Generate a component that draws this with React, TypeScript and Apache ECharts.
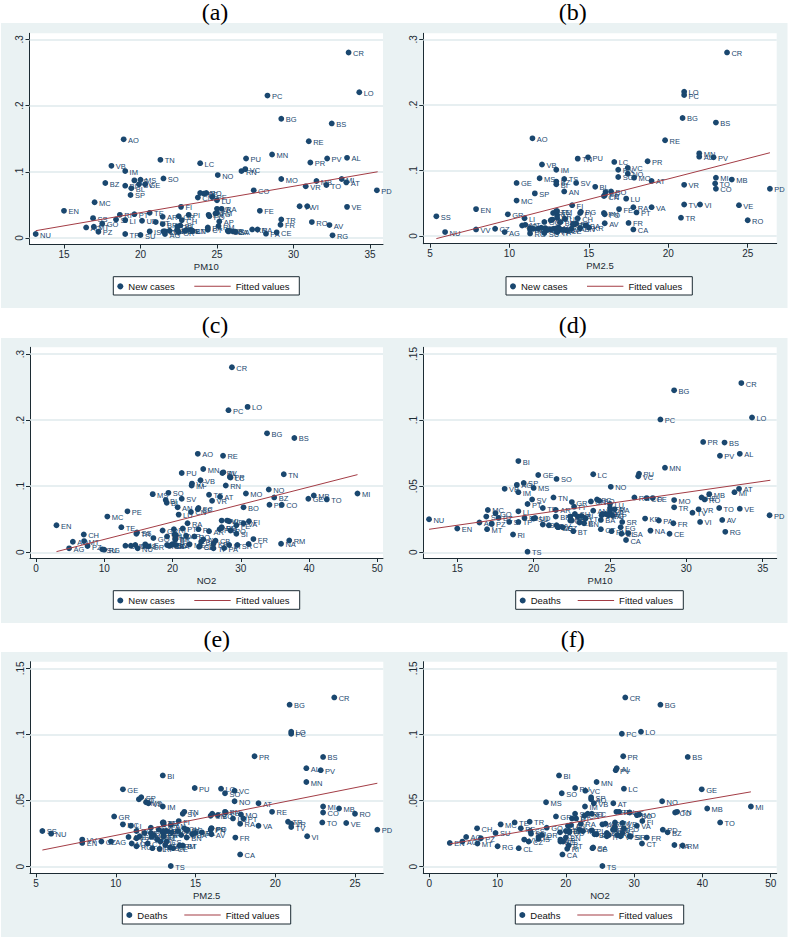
import React, { useEffect, useRef } from "react";
import * as echarts from "echarts";

const provinces = [
  "AG","AL","AN","AO","AP","AQ","AR","AT","AV","BA",
  "BG","BI","BL","BN","BO","BR","BS","BT","BZ","CA",
  "CB","CE","CH","CL","CN","CO","CR","CS","CT","CZ",
  "EN","FC","FE","FG","FI","FM","FR","GE","GO","GR",
  "IM","IS","KR","LC","LE","LI","LO","LT","LU","MB",
  "MC","ME","MI","MN","MO","MS","MT","NA","NO","NU",
  "OR","PA","PC","PD","PE","PG","PI","PN","PO","PR",
  "PT","PU","PV","PZ","RA","RC","RE","RG","RI","RM",
  "RN","RO","SA","SI","SO","SP","SR","SS","SU","SV",
  "TA","TE","TN","TO","TP","TR","TS","TV","UD","VA",
  "VB","VC","VE","VI","VR","VT","VV",
];
const pm10 = [
  21.6,33.5,23.9,18.9,25.15,16.45,21.45,33.45,32.35,24.4,
  29.2,19,19.4,23.3,24.3,21.45,32.5,22.6,17.7,26.05,
  22.4,28.9,22.7,25.75,23.75,27.4,33.6,21.6,24.4,21.9,
  15,24.15,27.8,25.7,22.65,25,29.15,20.3,17.5,22.5,
  19,20.6,27.3,23.9,23,19,34.3,23.4,25,31.5,
  17,22.4,33.15,28.6,29.2,20,16.95,27.65,25.05,13.15,
  22.5,28.2,28.3,35.45,24.7,24.9,23.15,24.45,24.5,31.1,
  19.6,26.9,32.2,17.25,25.3,22.4,31,32.55,18.65,25.1,
  26.6,31.2,26.2,18.4,21.5,19.35,25.8,16.9,20,19.9,
  22.9,20.6,21.3,32.15,19,29.2,19.6,30.4,20.1,25,
  18.1,26.85,33.5,30.9,30.8,21,21.5,
];
const pm25 = [
  9.7,21.95,13.45,11.45,12.7,10.8,13,18.95,16,14.8,
  20.9,12.95,15.4,14.45,16.4,13.2,23,14.2,12.95,17.8,
  14.1,13.6,14.3,12.3,15.95,23,23.7,13.2,12,9.1,
  7.9,16.05,16.9,12.8,13.95,13,17.5,10.45,12.2,9.9,
  12.95,12.6,15,16.6,12.25,10.95,21,11.8,17.35,24,
  10.45,13,23,21.95,17.85,11.9,11,13.1,17.45,5.95,
  12.4,13,21,26.4,16,14.5,14.45,15.95,16,18.7,
  18,14.95,22.85,11.3,17.8,11.3,19.8,11.3,12.75,14,
  16.85,25,13.4,13,16.85,11.6,11.5,5.4,12.2,14.2,
  13.9,12.95,14.3,22.95,13,20.8,13.45,21,13.5,18.95,
  12.05,17.45,24.45,22,21,12.6,7.9,
];
const no2 = [
  4.85,27.45,20.75,23.7,22,5.4,25.35,26.95,24.5,24.2,
  33.85,19,19.15,20,30.4,20.4,37.85,20.4,34.9,19.5,
  26.3,23.9,7,13.1,22.7,36,28.7,19.6,31.15,14.55,
  3,23.8,29.35,19.2,31.2,27.2,31.85,39.9,17.2,18.55,
  22.8,16,26,28.5,16,20.3,31,28.3,20.9,40.7,
  10.45,22.5,47.1,24.5,30.75,17.1,7.05,35.9,34.1,14.9,
  16.5,27.55,28.2,34.2,13.4,27.2,23.8,26.9,28.5,28.4,
  21.5,21.35,27.3,7.55,22.2,20,27.4,10,20.2,37.1,
  27.8,23.2,24,29.35,19.4,23.7,29.5,14.8,9.7,21.35,
  20.5,12.5,36.3,42.6,26,14.7,25.35,27.2,20.5,30.4,
  24.1,22.85,28.3,28,25.8,19.2,13.9,
];
const newCases = [
  .006,.121,.068,.149,.025,.016,.032,.084,.0195,.016,
  .18,.079,.075,.012,.068,.021,.173,.019,.083,.01,
  .0175,.0085,.027,.01,.061,.072,.28,.01,.0125,.011,
  .041,.067,.041,.011,.047,.038,.02,.081,.0215,.033,
  .101,.01,.013,.113,.012,.027,.22,.011,.057,.086,
  .054,.012,.089,.126,.089,.088,.017,.013,.095,.006,
  .009,.0065,.215,.072,.062,.037,.035,.035,.033,.114,
  .036,.12,.12,.0095,.044,.012,.146,.004,.035,.018,
  .101,.024,.0095,.028,.09,.065,.011,.03,.0045,.081,
  .011,.038,.118,.08,.006,.028,.087,.048,.026,.044,
  .109,.104,.047,.048,.078,.024,.01,
];
const deaths = [
  .019,.0745,.0315,.051,.028,.0225,.032,.048,.0245,.0245,
  .1225,.069,.026,.022,.039,.027,.083,.016,.026,.0093,
  .024,.014,.029,.014,.0385,.041,.128,.019,.0175,.019,
  .018,.04,.041,.019,.0345,.0335,.022,.0585,.0295,.038,
  .0455,.021,.0255,.059,.0225,.031,.102,.0255,.0365,.044,
  .032,.027,.0455,.064,.0395,.0487,.0175,.0164,.0495,.025,
  .024,.024,.1005,.028,.029,.028,.0275,.028,.029,.0835,
  .0365,.0595,.073,.0215,.0325,.027,.0415,.0155,.0135,.016,
  .0415,.04,.0145,.023,.0555,.0525,.023,.027,.0255,.04,
  .027,.0335,.0415,.0335,.023,.034,.0005,.03,.026,.031,
  .048,.0575,.033,.023,.0325,.0205,.0205,
];

const fitCasesPm10 = [[13.15, 0.011], [35.5, 0.1]];
const fitCasesPm25 = [[5.4, -0.004], [26.4, 0.127]];
const fitCasesNo2 = [[3, 0.001], [47.1, 0.1175]];
const fitDeathsPm10 = [[13.15, 0.0174], [35.5, 0.0545]];
const fitDeathsPm25 = [[5.4, 0.0126], [26.4, 0.0631]];
const fitDeathsNo2 = [[3, 0.0172], [47.1, 0.0566]];

const xTicksPm10 = [15, 20, 25, 30, 35];
const xTicksPm25 = [5, 10, 15, 20, 25];
const xTicksNo2 = [0, 10, 20, 30, 40, 50];
const yTicksCases = [0, 0.1, 0.2, 0.3];
const yTicksDeaths = [0, 0.05, 0.1, 0.15];

const NAVY = "#1a476f";
const MAROON = "#a33c45";
const BG = "#eaf2f3";
const AXIS = "#1c2b33";
const SANS = '"Liberation Sans", Arial, sans-serif';
const SERIF = '"Liberation Serif", "Times New Roman", serif';

const panels = [
  { title: "(a)", tx: 215, ty: 0, bg: [1, 23, 394, 285], g: [29.5, 33.3, 383, 244.5], xp: [15, 64, 35, 370], yp: [0, 238, 0.3, 39.3],
    x: pm10, y: newCases, xName: "PM10", yName: "New cases", fit: fitCasesPm10, xt: xTicksPm10, yt: yTicksCases, box: [113.3, 276.7, 299.3, 295], d: 4, l: 81 },
  { title: "(b)", tx: 572.7, ty: 0, bg: [395, 23, 392, 285], g: [423.3, 33.3, 776.7, 243.7], xp: [5, 430, 25, 747.7], yp: [0, 236, 0.3, 39.3],
    x: pm25, y: newCases, xName: "PM2.5", yName: "New cases", fit: fitCasesPm25, xt: xTicksPm25, yt: yTicksCases, box: [506, 276.7, 692.3, 295], d: 4, l: 81 },
  { title: "(c)", tx: 215, ty: 313, bg: [1, 338, 394, 285], g: [30, 347.3, 383, 558], xp: [0, 36, 50, 377.3], yp: [0, 552.3, 0.3, 354],
    x: no2, y: newCases, xName: "NO2", yName: "New cases", fit: fitCasesNo2, xt: xTicksNo2, yt: yTicksCases, box: [113.3, 590.7, 299.7, 609.3], d: 4, l: 81 },
  { title: "(d)", tx: 572.7, ty: 313, bg: [395, 338, 392, 285], g: [423.3, 347.3, 776.7, 558], xp: [15, 457.3, 35, 762.7], yp: [0, 552.3, 0.15, 354],
    x: pm10, y: deaths, xName: "PM10", yName: "Deaths", fit: fitDeathsPm10, xt: xTicksPm10, yt: yTicksDeaths, box: [515.7, 590.7, 683.3, 609.3], d: 4, l: 62 },
  { title: "(e)", tx: 216.7, ty: 627, bg: [1, 652, 394, 285], g: [30, 661.7, 383.3, 873.3], xp: [5, 36, 25, 355], yp: [0, 866.7, 0.15, 668.3],
    x: pm25, y: deaths, xName: "PM2.5", yName: "Deaths", fit: fitDeathsPm25, xt: xTicksPm25, yt: yTicksDeaths, box: [122.3, 905, 290.7, 924], d: 4, l: 62 },
  { title: "(f)", tx: 572.7, ty: 627, bg: [395, 652, 392, 285], g: [423.3, 661.7, 776.7, 873.3], xp: [0, 429.3, 50, 770.7], yp: [0, 866.7, 0.15, 668.3],
    x: no2, y: deaths, xName: "NO2", yName: "Deaths", fit: fitDeathsNo2, xt: xTicksNo2, yt: yTicksDeaths, box: [515.3, 905, 683.7, 924], d: 4, l: 62 },
];

const fmtY = (v: number) => (v === 0 ? "0" : String(+v.toFixed(2)).replace(/^0/, ""));

function buildOption() {
  const grid: any[] = [], xAxis: any[] = [], yAxis: any[] = [], series: any[] = [];
  const legend: any[] = [], title: any[] = [], graphic: any[] = [];
  panels.forEach((p, i) => {
    const [gl, gt, gr, gb] = p.g;
    const [xa, xapx, xb, xbpx] = p.xp;
    const [ya, yapx, yb, ybpx] = p.yp;
    const xs = (xb - xa) / (xbpx - xapx);
    const ys = (yb - ya) / (ybpx - yapx);
    grid.push({ left: gl, top: gt, width: gr - gl, height: gb - gt, show: true, backgroundColor: "#ffffff", borderWidth: 0 });
    xAxis.push({
      type: "value", gridIndex: i,
      min: xa + (gl - xapx) * xs, max: xa + (gr - xapx) * xs,
      name: p.xName, nameLocation: "middle", nameGap: 17,
      nameTextStyle: { fontFamily: SANS, fontSize: 9.5, color: AXIS },
      axisLine: { onZero: false, lineStyle: { color: AXIS, width: 1 } },
      axisTick: { customValues: p.xt, length: 4, lineStyle: { color: AXIS } },
      axisLabel: { customValues: p.xt, fontFamily: SANS, fontSize: 10, color: AXIS, margin: 5, showMinLabel: true, showMaxLabel: true },
      splitLine: { show: false },
    });
    yAxis.push({
      type: "value", gridIndex: i,
      min: ya + (gb - yapx) * ys, max: ya + (gt - yapx) * ys,
      axisLine: { onZero: false, lineStyle: { color: AXIS, width: 1 } },
      axisTick: { customValues: p.yt, length: 4, lineStyle: { color: AXIS } },
      axisLabel: { customValues: p.yt, fontFamily: SANS, fontSize: 10, color: AXIS, margin: 5, rotate: 90, formatter: fmtY },
      splitLine: { show: false },
    });
    series.push({
      type: "line", name: "Gridlines", xAxisIndex: i, yAxisIndex: i, symbol: "none", data: [], z: 1,
      markLine: {
        silent: true, symbol: "none", z: 1, animation: false,
        label: { show: false }, lineStyle: { color: "#dfeaec", width: 1.5, type: "solid" },
        data: p.yt.map((v) => ({ yAxis: v })),
      },
    });
    series.push({
      type: "scatter", name: p.yName, xAxisIndex: i, yAxisIndex: i,
      symbol: "circle", symbolSize: 5.8,
      itemStyle: { color: NAVY, opacity: 1 },
      data: provinces.map((c, k) => ({ value: [p.x[k], p.y[k]], name: c })),
      label: { show: true, position: "right", distance: 1.5, offset: [0, 1], formatter: "{b}", fontFamily: SANS, fontSize: 7.5, color: NAVY },
      z: 3,
    });
    series.push({
      type: "line", name: "Fitted values", xAxisIndex: i, yAxisIndex: i,
      symbol: "none", data: p.fit, lineStyle: { color: MAROON, width: 1 }, itemStyle: { color: MAROON }, z: 4,
    });
    const [bl, bt, br, bb] = p.box;
    const cy = (bt + bb) / 2;
    const text = { fontFamily: SANS, fontSize: 9.5, color: "#111111" };
    legend.push({
      data: [{ name: p.yName, icon: "circle" }], left: bl + p.d, top: cy - 4.5, padding: 0,
      itemWidth: 6, itemHeight: 6, selectedMode: false, textStyle: text,
    });
    legend.push({
      data: [{ name: "Fitted values", icon: "rect" }], left: bl + p.l, top: cy - 4.5, padding: 0,
      itemWidth: 36.4, itemHeight: 1, symbolKeepAspect: false, selectedMode: false, textStyle: text,
    });
    title.push({
      text: p.title, left: p.tx, top: p.ty, textAlign: "center", padding: 0,
      textStyle: { fontFamily: SERIF, fontSize: 24, fontWeight: "normal", color: "#000000" },
    });
    const [bx, by, bw, bh] = p.bg;
    graphic.push({ type: "rect", silent: true, z: -10, shape: { x: bx, y: by, width: bw + 0.5, height: bh }, style: { fill: BG } });
    graphic.push({ type: "rect", silent: true, z: 1, shape: { x: bl, y: bt, width: br - bl, height: bb - bt }, style: { fill: "#ffffff", stroke: AXIS, lineWidth: 1 } });
  });
  return { animation: false, backgroundColor: "#ffffff", grid, xAxis, yAxis, series, legend, title, graphic };
}

export default function App() {
  const ref = useRef<HTMLDivElement>(null);
  useEffect(() => {
    const chart = echarts.init(ref.current!, undefined, { renderer: "svg" });
    chart.setOption(buildOption() as any);
    return () => chart.dispose();
  }, []);
  return <div ref={ref} style={{ position: "absolute", left: 0, top: 0, width: 789, height: 939 }} />;
}
